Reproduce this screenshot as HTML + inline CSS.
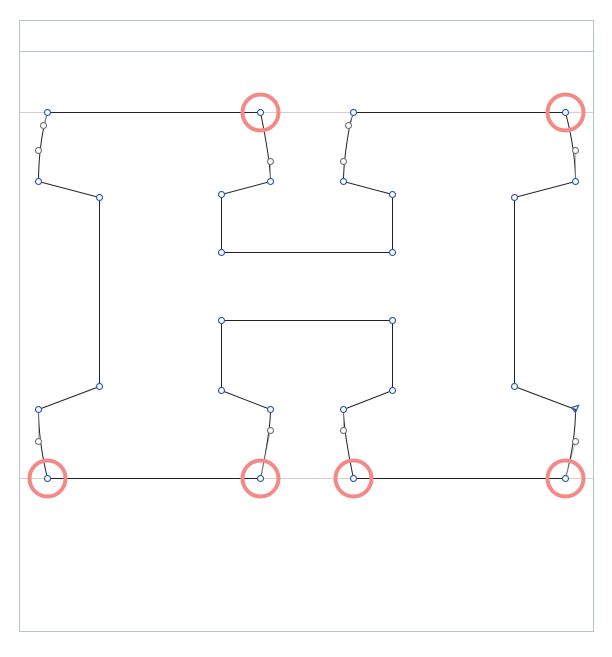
<!DOCTYPE html>
<html><head><meta charset="utf-8"><style>
html,body{margin:0;padding:0;background:#fff;width:612px;height:657px;overflow:hidden;font-family:"Liberation Sans",sans-serif}
</style></head><body>
<svg id="c" width="612" height="657" viewBox="0 0 612 657">
<rect x="19.5" y="20.5" width="574" height="611" fill="#fff" stroke="#b7c3cc"/>
<line x1="20" y1="51.5" x2="593" y2="51.5" stroke="#b7c3cc"/>
<line x1="20" y1="112.5" x2="593" y2="112.5" stroke="#d8cfc8"/>
<line x1="20" y1="478.5" x2="593" y2="478.5" stroke="#d8cfc8"/>
<g id="g"></g>
</svg>
<script>
// outline points: x, y, type: o=on-curve, c=off-curve handle, t=tangent
const ptX=[47,43,38,38,99,99,38,38,47,260,270,270,221,221,392,392,343,343,353,565,575,575,514,514,575,575,565,353,348,343,343,392,392,221,221,270,270,260];
const ptY=[112,125,150,181,197,386,409,441,478,478,430,409,390,320,320,390,409,430,478,478,441,409,386,197,181,150,112,112,125,161,181,194,252,252,194,181,161,112];
const ptT=['o','c','c','o','o','o','o','c','o','o','c','o','o','o','o','o','o','c','o','o','c','t','o','o','o','c','o','o','c','c','o','o','o','o','o','o','c','o'];
const selX=[260,565,47,260,353,565];
const selY=[112,112,478,478,478,478];
const sx=v=>v+0.5, sy=v=>v+0.5;
const g=document.getElementById('g');
const NS='http://www.w3.org/2000/svg';
let d='';const n=ptX.length;let i=0;
d+='M'+sx(ptX[0])+' '+sy(ptY[0]);
i=1;
while(i<=n){
  const k=i%n;
  if(ptT[k]==='c'){
    const k2=(i+1)%n;
    if(ptT[k2]==='c'){const k3=(i+2)%n;d+=' C'+sx(ptX[k])+' '+sy(ptY[k])+' '+sx(ptX[k2])+' '+sy(ptY[k2])+' '+sx(ptX[k3])+' '+sy(ptY[k3]);i+=3;}
    else{d+=' Q'+sx(ptX[k])+' '+sy(ptY[k])+' '+sx(ptX[k2])+' '+sy(ptY[k2]);i+=2;}
  } else {d+=' L'+sx(ptX[k])+' '+sy(ptY[k]);i++;}
}
const p=document.createElementNS(NS,'path');
p.setAttribute('d',d+' Z');p.setAttribute('fill','none');p.setAttribute('stroke','#222');p.setAttribute('stroke-width','1');


g.appendChild(p);
for(let j=0;j<n;j++){
  if(ptT[j]==='c'){
    const a=(j-1+n)%n;
    if(ptT[a]!=='c'){const l=document.createElementNS(NS,'line');l.setAttribute('x1',sx(ptX[a]));l.setAttribute('y1',sy(ptY[a]));l.setAttribute('x2',sx(ptX[j]));l.setAttribute('y2',sy(ptY[j]));l.setAttribute('stroke','#999');l.setAttribute('stroke-width','0.6');g.appendChild(l);}
  }
}
for(let j=0;j<selX.length;j++){
  const c=document.createElementNS(NS,'circle');
  c.setAttribute('cx',sx(selX[j]));c.setAttribute('cy',sy(selY[j]));c.setAttribute('r','18');
  c.setAttribute('fill','none');c.setAttribute('stroke','#f48a88');c.setAttribute('stroke-width','4');
  
  
  g.appendChild(c);
}
for(let j=0;j<n;j++){
  const x=sx(ptX[j]),y=sy(ptY[j]);
  let el;
  if(ptT[j]==='t'){
    el=document.createElementNS(NS,'path');
    el.setAttribute('d','M'+(x-4)+' '+(y-2)+' L'+(x+3)+' '+(y-4)+' L'+(x)+' '+(y+3)+' Z');
    el.setAttribute('fill','none');el.setAttribute('stroke','#2f5db0');el.setAttribute('stroke-width','1.3');
  } else {
    el=document.createElementNS(NS,'circle');
    el.setAttribute('cx',x);el.setAttribute('cy',y);el.setAttribute('r','3');el.setAttribute('fill','#fff');
    el.setAttribute('stroke',ptT[j]==='c'?'#777':'#2f5db0');el.setAttribute('stroke-width','1.2');
  }
  
  
  g.appendChild(el);
}
</script>
</body></html>
